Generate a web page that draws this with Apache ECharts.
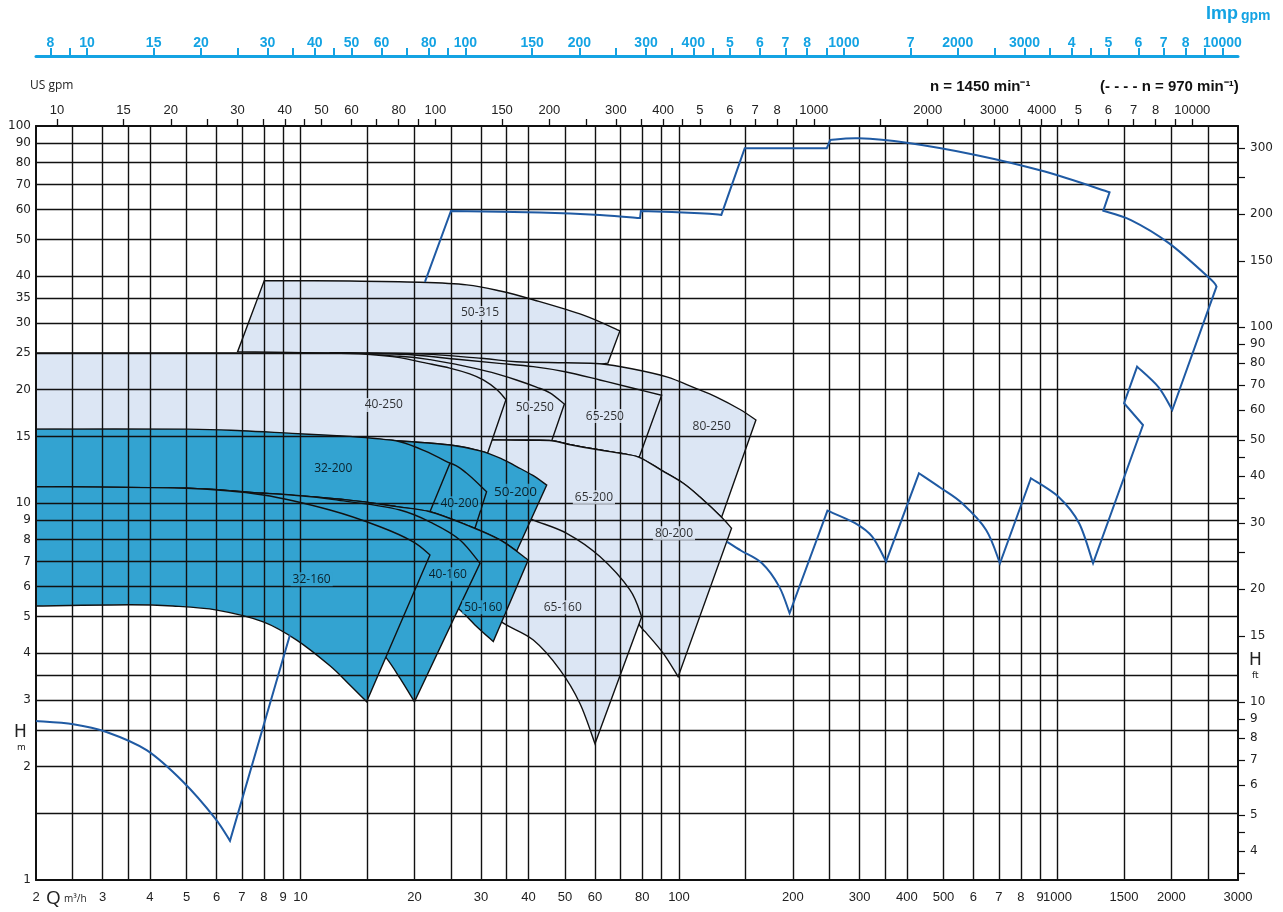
<!DOCTYPE html>
<html>
<head>
<meta charset="utf-8">
<title>Pump range chart n = 1450 1/min</title>
<script src="https://cdn.jsdelivr.net/npm/echarts@6/dist/echarts.min.js"></script>
<style>
html, body { margin: 0; padding: 0; background: #ffffff; }
#chart { width: 1283px; height: 912px; }
</style>
</head>
<body>
<div id="chart"></div>
<script>
// ---------- Axis ticks and labels (flow Q in m³/h, head H in m) ----------
const qGrid = [2.5,3,3.5,4,5,6,7,8,9,10,15,20,25,30,35,40,50,60,70,80,90,100,150,200,250,300,350,400,500,600,700,800,900,1000,1500,2000,2500];
const qLabelValues = [2,3,4,5,6,7,8,9,10,20,30,40,50,60,80,100,200,300,400,500,600,700,800,900,1000,1500,2000,3000];
const qLabelTexts  = ['2','3','4','5','6','7','8','9','10','20','30','40','50','60','80','100','200','300','400','500','6','7','8','9','1000','1500','2000','3000'];
const hGrid = [1.5,2,2.5,3,3.5,4,5,6,7,8,9,10,15,20,25,30,35,40,50,60,70,80,90];
const hLabelValues = [1,2,3,4,5,6,7,8,9,10,15,20,25,30,35,40,50,60,70,80,90,100];

// head in feet (right scale)
const ftTicks = [3.5,4,4.5,5,6,7,8,9,10,15,20,25,30,35,40,45,50,60,70,80,90,100,150,200,250,300];
const ftLabelValues = [4,5,6,7,8,9,10,15,20,30,40,50,60,70,80,90,100,150,200,300];
const ftRange = [3.35, 343.5];

// US gallons per minute (top scale)
const usTicks = [10,15,20,25,30,35,40,45,50,60,70,80,90,100,150,200,250,300,350,400,450,500,600,700,800,900,1000,1500,2000,2500,3000,3500,4000,4500,5000,6000,7000,8000,9000,10000];
const usLabelValues = [10,15,20,30,40,50,60,80,100,150,200,300,400,500,600,700,800,1000,2000,3000,4000,5000,6000,7000,8000,10000];
const usLabelTexts  = ['10','15','20','30','40','50','60','80','100','150','200','300','400','5','6','7','8','1000','2000','3000','4000','5','6','7','8','10000'];

// Imperial gallons per minute (uppermost scale)
const impTicks = [8,9,10,15,20,25,30,35,40,45,50,60,70,80,90,100,150,200,250,300,350,400,450,500,600,700,800,900,1000,1500,2000,2500,3000,3500,4000,4500,5000,6000,7000,8000,9000,10000];
const impLabelValues = [8,10,15,20,30,40,50,60,80,100,150,200,300,400,500,600,700,800,1000,1500,2000,3000,4000,5000,6000,7000,8000,10000];
const impLabelTexts  = ['8','10','15','20','30','40','50','60','80','100','150','200','300','400','5','6','7','8','1000','7','2000','3000','4','5','6','7','8','10000'];

const US_GPM_PER_M3H = 4.40287;
const IMP_GPM_PER_M3H = 3.66615;
const Q_RANGE = [2, 3000];
const H_RANGE = [1, 100];

// ---------- Pump size envelopes [Q m³/h, H m]: upper edge, then lower edge ----------
const top_50_315 = [[8.02,38.9],[13.5,38.8],[20.7,38.5],[27.5,37.9],[33.7,36.5],[41.2,34.6],[55.9,31.5],[69.8,28.6]];
const bot_50_315 = [[64.9,23.5],[55,23.0],[45,22.8],[35,23.2],[25,24.0],[18,24.6],[12,24.95],[6.82,25.2]];

const top_80_250 = [[12,25.05],[20,24.9],[30,24.2],[37.2,23.7],[50,23.55],[61.8,23.4],[75,22.7],[92.8,21.6],[110,20.2],[125.7,19.1],[145,17.7],[159.7,16.6]];
const bot_80_250 = [[129.6,9.17],[113.6,10.37],[102.6,11.28],[90,12.2],[78.5,13.22],[70,13.55],[61.8,13.82],[52,14.25],[46.1,14.63],[40,14.67],[31.66,14.69],[25,14.75],[20,14.8],[12,15.0]];

const top_65_250 = [[15,24.95],[20,24.7],[25.9,24.05],[33,23.5],[41.2,23.0],[50,22.3],[61.8,21.2],[75.7,20.15],[90,19.3]];
const bot_65_250 = [[78.5,13.22],[70,13.55],[61.8,13.82],[52,14.25],[46.1,14.63],[40,14.67],[31.66,14.69],[25,14.75],[20,14.8],[15,14.9]];

const top_50_250 = [[12,25.05],[18.3,24.5],[22,24.0],[27.5,23.0],[32,22.2],[37.2,21.2],[42,20.3],[45.6,19.6],[49.8,18.3]];
const bot_50_250 = [[46.1,14.63],[40,14.67],[31.66,14.69],[25,14.75],[20,14.8],[15,14.9]];

const top_65_200 = [[20,14.8],[25,14.75],[31.66,14.69],[40,14.67],[46.1,14.63],[52,14.25],[61.8,13.82],[70,13.55],[78.5,13.22]];
const bot_65_200 = [[79.7,4.99],[74.2,5.88],[61.8,7.21],[50.5,8.31],[40.8,9.05],[33.7,9.88],[26.4,10.5],[20,11.0]];

const top_80_200 = [[20,14.8],[25,14.75],[31.66,14.69],[40,14.67],[46.1,14.63],[52,14.25],[61.8,13.82],[70,13.55],[78.5,13.22],[90,12.2],[102.6,11.28],[113.6,10.37],[129.6,9.17],[137.7,8.57]];
const bot_80_200 = [[99.5,3.46],[90.9,3.99],[82.1,4.51],[79.7,4.66],[69.8,5.53],[54.7,6.63],[42.9,7.6],[33.7,8.5],[26,9.1],[20,9.9]];

const top_65_160 = [[26.4,10.5],[33.7,9.88],[40.8,9.05],[50.5,8.31],[61.8,7.21],[74.2,5.88],[79.7,4.99]];
const bot_65_160 = [[59.98,2.30],[54.74,2.94],[48.48,3.61],[41.22,4.33],[34.34,4.80],[29.8,5.36],[24.82,6.44],[21.98,7.06]];

const top_40_250 = [[2,25.0],[8,25.0],[12,25.0],[15,24.8],[18.3,24.3],[21,23.6],[24.8,22.8],[28,22.0],[30.4,21.2],[33,20.0],[34.9,18.8]];
const bot_40_250 = [[31.2,13.55],[29.8,13.75],[24.82,14.25],[18.31,14.6],[12.84,15.0],[8,15.3],[5,15.5],[2,15.7]];

const top_50_200 = [[2,15.3],[8,15.15],[12.84,15.0],[18.31,14.6],[24.82,14.25],[29.8,13.75],[34,13.1],[37.24,12.49],[41,11.85],[44.72,11.16]];
const bot_50_200 = [[37.24,7.45],[33.66,7.98],[27.48,8.74],[21.98,9.48],[17.95,9.78],[13.24,10.19],[7.97,10.61],[5,10.94],[2,11.05]];

const top_40_200 = [[2,13.7],[10,13.5],[18.3,13.0],[20.67,12.85],[24.82,12.75],[27.48,11.99],[31.02,10.71]];
const bot_40_200 = [[28.9,8.57],[27.48,8.74],[21.98,9.48],[17.95,9.78],[13.24,10.19],[7.97,10.61],[5,10.94],[2,11.05]];

const top_32_200 = [[2,15.7],[5,15.7],[7,15.55],[9.5,15.3],[12.84,15.07],[15.5,14.85],[18.31,14.54],[21.3,13.75],[24.82,12.75]];
const bot_32_200 = [[21.98,9.48],[17.95,9.78],[13.24,10.19],[7.97,10.61],[5,10.94],[2,11.05]];

const top_50_160 = [[2,11.05],[5,10.94],[7.97,10.61],[13.24,10.19],[17.95,9.78],[21.98,9.48],[27.48,8.74],[33.66,7.98],[39.96,7.06]];
const bot_50_160 = [[32.3,4.29],[28.9,4.75],[26.38,5.2],[22,6.0],[15,7.0],[2,7.5]];

const top_40_160 = [[2,11.05],[7.97,10.61],[13.24,10.1],[18.31,9.58],[22.42,8.82],[26.38,7.98],[29.8,6.92]];
const bot_40_160 = [[20,2.97],[18.31,3.43],[16.89,3.87],[15.3,4.33],[12.71,5.2],[10,5.5],[2,6.0]];

const top_32_160 = [[2,11.05],[5,10.94],[7.97,10.5],[11.96,9.58],[16.22,8.65],[19.85,7.89],[21.98,7.28]];
const bot_32_160 = [[14.95,2.97],[13.5,3.29],[11.96,3.70],[9.77,4.33],[7.97,4.84],[6.01,5.2],[4.6,5.33],[3.54,5.37],[2,5.33]];

// Size label anchors [name, Q, H]
const pumpLabels = [
  ['50-315', 29.8, 31.9], ['40-250', 16.6, 18.2], ['50-250', 41.6, 17.9], ['65-250', 63.7, 17.0], ['80-250', 122, 15.9],
  ['32-200', 12.2, 12.36], ['40-200', 26.3, 9.98], ['50-200', 37.0, 10.71], ['65-200', 59.6, 10.35], ['80-200', 97, 8.31],
  ['32-160', 10.7, 6.28], ['40-160', 24.5, 6.47], ['50-160', 30.4, 5.29], ['65-160', 49.3, 5.29]
];

// Outer range boundary (blue), as consecutive pieces [Q, H]
const rangeLarge = [
  [[133.9,7.89],[146,7.47],[165.7,6.92],[184,6.0],[196,5.1]],
  [[196,5.1],[246.8,9.54]],
  [[246.8,9.54],[292,8.84],[324,8.14],[352.6,6.99]],
  [[352.6,6.99],[430.6,11.99]],
  [[430.6,11.99],[493,10.94],[560,9.98],[648,8.48],[705,6.92]],
  [[705,6.92],[851,11.63]],
  [[851,11.63],[1006,10.39],[1141,8.84],[1242,6.92]],
  [[1242,6.92],[1683,16.1]],
  [[1683,16.1],[1500,18.4]],
  [[1500,18.4],[1624,23.0]],
  [[1624,23.0],[1849,20.3],[2011,17.65]],
  [[2011,17.65],[2632,37.5]],
  [[2632,37.5],[2528,39.4],[1970,48.9],[1564,56.3],[1322,59.6]],
  [[1322,59.6],[1373,66.7]],
  [[1373,66.7],[926,75.7],[608,83.8],[399.8,90.3],[298,92.8],[251,91.8]],
  [[251,91.8],[245.8,87.3]],
  [[245.8,87.3],[149.2,87.3]],
  [[149.2,87.3],[129.4,58.1]],
  [[129.4,58.1],[113.6,58.7],[79.3,59.5]],
  [[79.3,59.5],[78.9,57.0]],
  [[78.9,57.0],[61.84,58.1],[42.9,58.97],[24.97,59.5]],
  [[24.97,59.5],[21.32,38.6]]
];
const rangeSmall = [
  [[2,2.64],[2.51,2.59],[3.07,2.47],[3.92,2.21],[4.9,1.82],[5.94,1.46],[6.51,1.27]],
  [[6.51,1.27],[9.38,4.47]]
];

// ---------- Styling ----------
const LIGHT = '#dce6f4';
const DARK = '#33a3d1';
const LINE_BLUE = '#1f5aa3';
const CYAN = '#14a3e3';
const GRID_COLOR = '#111111';
const NARROW = '"Liberation Sans Narrow", "Liberation Sans", Arial, sans-serif';
const WIDE = '"DejaVu Sans", Verdana, sans-serif';
const LABEL_FONT = '"Open Sans", "Noto Sans", sans-serif';

// drawing order: back to front
const shapes = [
  { name: '50-315', fill: LIGHT, top: top_50_315, bottom: bot_50_315 },
  { name: '80-250', fill: LIGHT, top: top_80_250, bottom: bot_80_250 },
  { name: '65-250', fill: LIGHT, top: top_65_250, bottom: bot_65_250 },
  { name: '50-250', fill: LIGHT, top: top_50_250, bottom: bot_50_250 },
  { name: '65-200', fill: LIGHT, top: top_65_200, bottom: bot_65_200 },
  { name: '80-200', fill: LIGHT, top: top_80_200, bottom: bot_80_200 },
  { name: '65-160', fill: LIGHT, top: top_65_160, bottom: bot_65_160 },
  { name: '40-250', fill: LIGHT, top: top_40_250, bottom: bot_40_250 },
  { name: '50-200', fill: DARK, top: top_50_200, bottom: bot_50_200 },
  { name: '40-200', fill: DARK, top: top_40_200, bottom: bot_40_200 },
  { name: '32-200', fill: DARK, top: top_32_200, bottom: bot_32_200 },
  { name: '50-160', fill: DARK, top: top_50_160, bottom: bot_50_160 },
  { name: '40-160', fill: DARK, top: top_40_160, bottom: bot_40_160 },
  { name: '32-160', fill: DARK, top: top_32_160, bottom: bot_32_160 }
];
const darkNames = shapes.filter(s => s.fill === DARK).map(s => s.name);

const L = v => Math.log10(v);
const toLog = p => [L(p[0]), L(p[1])];

function textFor(values, texts) {
  return function (v) {
    for (let i = 0; i < values.length; i++) {
      if (Math.abs(L(values[i]) - v) < 1e-6) return texts[i];
    }
    return '';
  };
}

// Smooth curve (Catmull-Rom as cubic Béziers) through pixel points, starting after pts[0]
function curveThrough(pts) {
  if (pts.length === 2) return ' L' + pts[1][0] + ' ' + pts[1][1];
  let d = '';
  for (let i = 0; i < pts.length - 1; i++) {
    const p0 = pts[i - 1] || pts[i];
    const p1 = pts[i];
    const p2 = pts[i + 1];
    const p3 = pts[i + 2] || p2;
    const c1x = p1[0] + (p2[0] - p0[0]) / 6, c1y = p1[1] + (p2[1] - p0[1]) / 6;
    const c2x = p2[0] - (p3[0] - p1[0]) / 6, c2y = p2[1] - (p3[1] - p1[1]) / 6;
    d += ' C' + c1x + ' ' + c1y + ' ' + c2x + ' ' + c2y + ' ' + p2[0] + ' ' + p2[1];
  }
  return d;
}

const chart = echarts.init(document.getElementById('chart'), null, { renderer: 'canvas' });

// layers: 0 = range fills, 1 = axes and grid, 2 = boundary line and size labels
const option = {
  animation: false,
  backgroundColor: '#ffffff',
  textStyle: { fontFamily: LABEL_FONT },
  grid: { left: 36, right: 45, top: 126, bottom: 32, outerBoundsMode: 'none' },
  xAxis: [
    {
      type: 'value', position: 'bottom', min: L(Q_RANGE[0]), max: L(Q_RANGE[1]), zlevel: 1, z: 3,
      axisLine: { show: true, onZero: false, lineStyle: { color: '#111', width: 2 } },
      axisTick: { show: false, customValues: qGrid.map(L) },
      splitLine: { show: true, lineStyle: { color: GRID_COLOR, width: 1.4 } },
      axisLabel: {
        customValues: qLabelValues.map(L), formatter: textFor(qLabelValues, qLabelTexts),
        margin: 11, fontSize: 13, fontFamily: NARROW, color: '#222'
      }
    },
    {
      type: 'value', position: 'top', min: L(Q_RANGE[0] * US_GPM_PER_M3H), max: L(Q_RANGE[1] * US_GPM_PER_M3H), zlevel: 1, z: 3,
      axisLine: { show: true, onZero: false, lineStyle: { color: '#111', width: 2 } },
      axisTick: { show: true, inside: false, length: 7, customValues: usTicks.map(L), lineStyle: { color: '#111', width: 1.3 } },
      splitLine: { show: false },
      axisLabel: {
        customValues: usLabelValues.map(L), formatter: textFor(usLabelValues, usLabelTexts),
        margin: 9, fontSize: 13, fontFamily: NARROW, color: '#222'
      }
    },
    {
      type: 'value', position: 'top', offset: 70, min: L(Q_RANGE[0] * IMP_GPM_PER_M3H), max: L(Q_RANGE[1] * IMP_GPM_PER_M3H), zlevel: 1, z: 3,
      axisLine: { show: true, onZero: false, lineStyle: { color: CYAN, width: 3 } },
      axisTick: { show: true, inside: false, length: 8, customValues: impTicks.map(L), lineStyle: { color: CYAN, width: 2 } },
      splitLine: { show: false },
      axisLabel: {
        customValues: impLabelValues.map(L), formatter: textFor(impLabelValues, impLabelTexts),
        margin: 6, fontSize: 14, fontWeight: 'bold', fontFamily: NARROW, color: CYAN
      }
    }
  ],
  yAxis: [
    {
      type: 'value', position: 'left', min: L(H_RANGE[0]), max: L(H_RANGE[1]), zlevel: 1, z: 3,
      axisLine: { show: true, onZero: false, lineStyle: { color: '#111', width: 2 } },
      axisTick: { show: false, customValues: hGrid.map(L) },
      splitLine: { show: true, lineStyle: { color: GRID_COLOR, width: 1.4 } },
      axisLabel: {
        customValues: hLabelValues.map(L), formatter: textFor(hLabelValues, hLabelValues.map(String)),
        margin: 5, fontSize: 12, fontFamily: WIDE, color: '#222'
      }
    },
    {
      type: 'value', position: 'right', min: L(ftRange[0]), max: L(ftRange[1]), zlevel: 1, z: 3,
      axisLine: { show: true, onZero: false, lineStyle: { color: '#111', width: 2 } },
      axisTick: { show: true, inside: false, length: 7, customValues: ftTicks.map(L), lineStyle: { color: '#111', width: 1.2 } },
      splitLine: { show: false },
      axisLabel: {
        customValues: ftLabelValues.map(L), formatter: textFor(ftLabelValues, ftLabelValues.map(String)),
        margin: 12, fontSize: 12, fontFamily: WIDE, color: '#222'
      }
    }
  ],
  series: [
    {
      name: 'ranges', type: 'custom', xAxisIndex: 0, yAxisIndex: 0, zlevel: 0, z: 1, silent: true,
      data: shapes.map((s, i) => [i, 0]),
      renderItem: function (params, api) {
        const s = shapes[params.dataIndex];
        const px = p => api.coord(toLog(p));
        const t = s.top.map(px), b = s.bottom.map(px);
        const d = 'M' + t[0][0] + ' ' + t[0][1] + curveThrough(t) +
                  ' L' + b[0][0] + ' ' + b[0][1] + curveThrough(b) + ' Z';
        return {
          type: 'path', z2: params.dataIndex,
          shape: { pathData: d },
          style: { fill: s.fill, stroke: '#111', lineWidth: 1.4, lineJoin: 'miter' }
        };
      }
    },
    {
      name: 'boundary', type: 'custom', xAxisIndex: 0, yAxisIndex: 0, zlevel: 2, z: 5, silent: true,
      data: [[0, 0], [1, 0]],
      renderItem: function (params, api) {
        const chain = params.dataIndex === 0 ? rangeLarge : rangeSmall;
        const px = p => api.coord(toLog(p));
        const start = px(chain[0][0]);
        let d = 'M' + start[0] + ' ' + start[1];
        chain.forEach(piece => { d += curveThrough(piece.map(px)); });
        return {
          type: 'path',
          shape: { pathData: d },
          style: { fill: 'none', stroke: LINE_BLUE, lineWidth: 2, lineJoin: 'miter' }
        };
      }
    },
    {
      name: 'sizes', type: 'scatter', xAxisIndex: 0, yAxisIndex: 0, zlevel: 2, z: 6, silent: true,
      symbolSize: 0,
      data: pumpLabels.map(([name, q, h]) => ({
        name: name,
        value: [L(q), L(h)],
        label: {
          backgroundColor: darkNames.indexOf(name) >= 0 ? DARK : LIGHT,
          fontSize: name === '50-200' ? 13.5 : 12
        }
      })),
      label: {
        show: true, position: 'inside', formatter: '{b}', color: '#000',
        fontFamily: LABEL_FONT, fontSize: 12, padding: [1, 2]
      }
    }
  ],
  graphic: [
    { type: 'text', left: 30, top: 80, z: 10, style: { text: 'US gpm', fontSize: 12, fontFamily: LABEL_FONT, fill: '#222' } },
    { type: 'text', left: 930, top: 79, z: 10, style: { text: 'n = 1450 min⁻¹', fontSize: 15, fontWeight: 'bold', fontFamily: NARROW, fill: '#111' } },
    { type: 'text', left: 1100, top: 79, z: 10, style: { text: '(- - - - n = 970 min⁻¹)', fontSize: 15, fontWeight: 'bold', fontFamily: NARROW, fill: '#111' } },
    { type: 'text', left: 1206, top: 5, z: 10, style: { text: 'Imp', fontSize: 18, fontWeight: 'bold', fontFamily: NARROW, fill: CYAN } },
    { type: 'text', left: 1241, top: 9, z: 10, style: { text: 'gpm', fontSize: 14, fontWeight: 'bold', fontFamily: NARROW, fill: CYAN } },
    { type: 'text', left: 14, top: 724, z: 10, style: { text: 'H', fontSize: 17, fontFamily: WIDE, fill: '#222' } },
    { type: 'text', left: 17, top: 743, z: 10, style: { text: 'm', fontSize: 9, fontFamily: WIDE, fill: '#222' } },
    { type: 'text', left: 1249, top: 652, z: 10, style: { text: 'H', fontSize: 17, fontFamily: WIDE, fill: '#222' } },
    { type: 'text', left: 1252, top: 671, z: 10, style: { text: 'ft', fontSize: 9, fontFamily: WIDE, fill: '#222' } },
    { type: 'text', left: 46, top: 889, z: 10, style: { text: 'Q', fontSize: 19, fontFamily: LABEL_FONT, fill: '#222' } },
    { type: 'text', left: 64, top: 894, z: 10, style: { text: 'm³/h', fontSize: 10, fontFamily: LABEL_FONT, fill: '#222' } }
  ]
};

chart.setOption(option);
</script>
</body>
</html>
